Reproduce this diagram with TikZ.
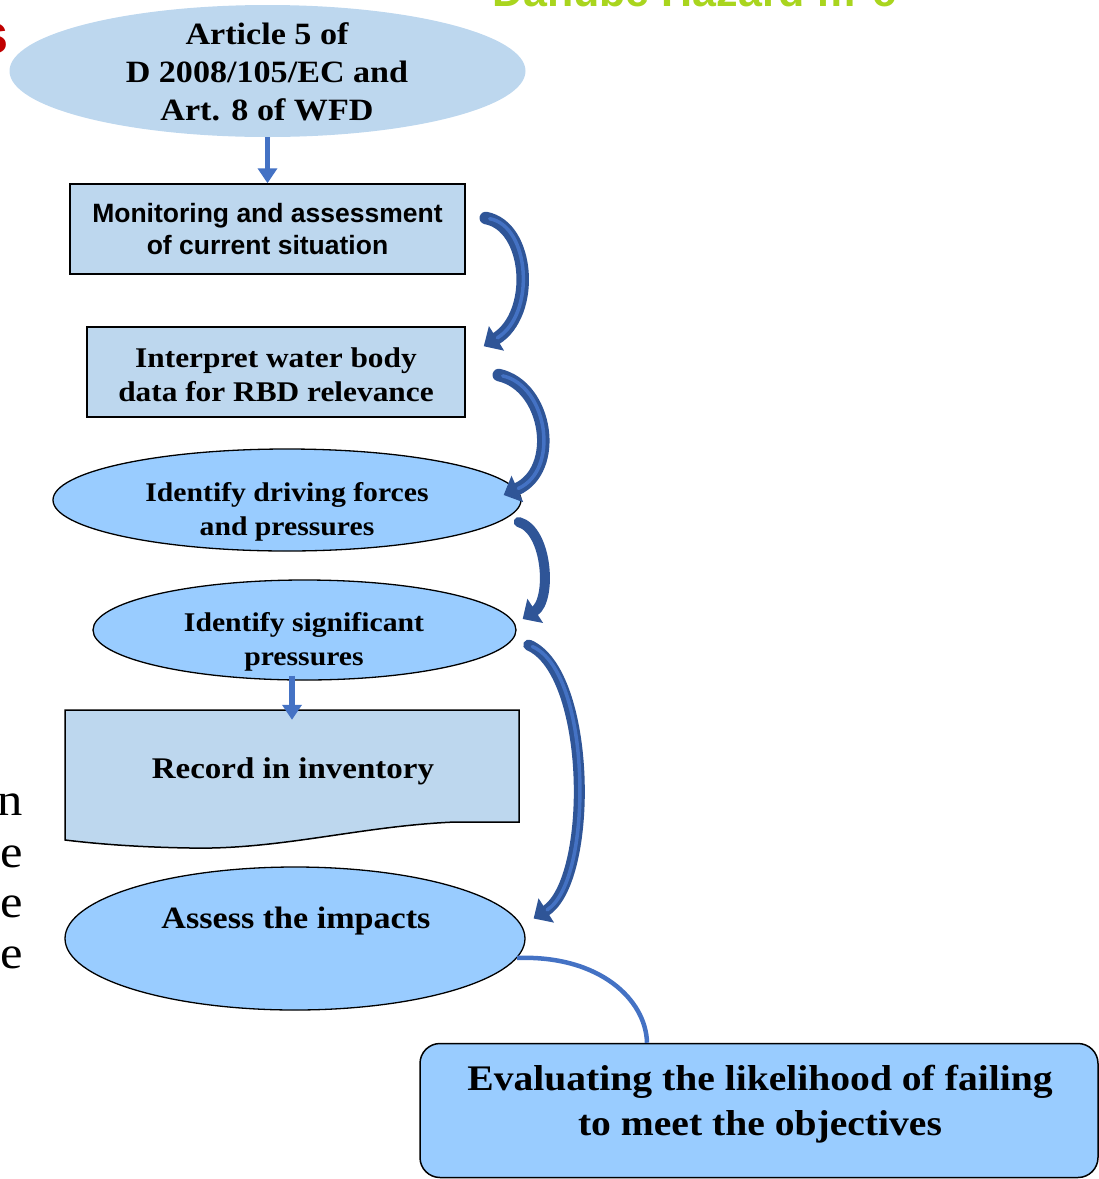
\documentclass[tikz,border=0pt]{standalone}
\usepackage{fontspec}
\setmainfont{Liberation Serif}
\newfontfamily\cam[FakeStretch=1.1]{Liberation Serif}
\newfontfamily\arl{Liberation Sans}
\usetikzlibrary{arrows.meta,shapes.geometric,calc}
\definecolor{paleblue}{HTML}{BDD7EE}
\definecolor{skyblue}{HTML}{99CCFF}
\definecolor{linkblue}{HTML}{4472C4}
\definecolor{darkarrow}{HTML}{2F5597}
\definecolor{titlered}{HTML}{C00000}
\definecolor{titlegreen}{HTML}{A9D51E}
\begin{document}
\begin{tikzpicture}[x=1pt,y=-1pt,
  ellshape/.style={ellipse,inner sep=0pt,draw=black,line width=1.3pt,fill=skyblue},
  boxnode/.style={rectangle,draw=black,line width=1.5pt,fill=paleblue,inner sep=0pt,align=center},
  camtext/.style={align=center,inner sep=0pt},
  downarrow/.style={draw=linkblue,line width=5.5pt,-{Triangle[length=15pt,width=19pt]}},
  bendarrow/.style={draw=darkarrow,line width=#1,line cap=round,-{Triangle[length=15pt,width=28pt]}},
  bendcore/.style={draw=linkblue,line width=3.5pt,line cap=round,shorten >=16pt,shorten <=4pt},
  leftfrag/.style={anchor=base east,inner sep=0pt,font={\cam\fontsize{46}{51}\selectfont}}
]
\useasboundingbox (0,0) rectangle (1099,1179);

% cut-off title fragments
\node[anchor=base east,inner sep=0pt,text=titlered,font={\arl\bfseries\fontsize{56}{60}\selectfont}] (reds) at (9,53) {s};
\node[anchor=base west,inner sep=0pt,text=titlegreen,font={\arl\bfseries\fontsize{43}{50}\selectfont}] (greent) at (492,6) {Danube Hazard m\textsuperscript{3}c};

% left side text fragments
\node[leftfrag] (f1) at (23,815) {n};
\node[leftfrag] (f2) at (23,867) {e};
\node[leftfrag] (f3) at (23,917) {e};
\node[leftfrag] (f4) at (23,968) {e};

% top ellipse
\node[ellipse,inner sep=0pt,fill=paleblue,minimum width=516pt,minimum height=132pt] (top) at (267.5,71) {};
\node[camtext,font={\cam\bfseries\fontsize{31}{38}\selectfont}] (toptext) at (267,72) {Article 5 of\\D 2008/105/EC and\\Art. 8 of WFD};

% box 1
\node[boxnode,minimum width=395pt,minimum height=90pt,font={\arl\bfseries\fontsize{26.5}{32}\selectfont}] (box1) at (267.5,229) {Monitoring and assessment\\of current situation};

% box 2
\node[boxnode,minimum width=378pt,minimum height=90pt] (box2) at (276,372) {};
\node[camtext,font={\cam\bfseries\fontsize{28.5}{34}\selectfont}] (box2text) at (276,375) {Interpret water body\\data for RBD relevance};

% ellipse 3
\node[ellshape,minimum width=468pt,minimum height=102pt] (ell3) at (287,500) {};
\node[camtext,font={\cam\bfseries\fontsize{27}{34}\selectfont}] (ell3text) at (287,512) {Identify driving forces\\and pressures};

% ellipse 4
\node[ellshape,minimum width=423pt,minimum height=100pt] (ell4) at (304.5,630) {};
\node[camtext,font={\cam\bfseries\fontsize{27}{34}\selectfont}] (ell4text) at (304,642) {Identify significant\\pressures};

% record (document shape)
\draw[fill=paleblue,line width=1.5pt] (65,710) -- (519,710) -- (519,822) -- (455,822)
  .. controls (360,826) and (280,850) .. (190,848)
  .. controls (130,847) and (90,843) .. (65,840) -- cycle;
\node[minimum width=454pt,minimum height=112pt,inner sep=0pt] (rec) at (292,766) {};
\node[camtext,font={\cam\bfseries\fontsize{30}{36}\selectfont}] (rectext) at (293,771) {Record in inventory};

% ellipse 5
\node[ellshape,minimum width=460pt,minimum height=143pt] (ell5) at (295,938.5) {};
\node[camtext,font={\cam\bfseries\fontsize{31}{36}\selectfont}] (ell5text) at (296,921) {Assess the impacts};

% final box
\node[rectangle,rounded corners=20pt,draw=black,line width=1.5pt,fill=skyblue,minimum width=678pt,minimum height=134pt,inner sep=0pt] (final) at (759,1110.5) {};
\node[camtext,font={\cam\bfseries\fontsize{36}{45}\selectfont}] (finaltext) at (760,1104) {Evaluating the likelihood of failing\\to meet the objectives};

% straight arrows
\draw[downarrow] (top.south) -- (box1.north);
\draw[downarrow] ([yshift=5pt]ell4.south -| rec.north) -- ([yshift=-10pt]rec.north);

% curved arrows
\coordinate (a1s) at ([xshift=20pt,yshift=11pt]box1.east);
\coordinate (a1e) at ([xshift=18pt,yshift=-20pt]box2.north east);
\draw[bendarrow=12.5pt] (a1s) .. controls (530,226) and (536,314) .. (a1e);
\draw[bendcore] (a1s) .. controls (530,226) and (536,314) .. (a1e);

\coordinate (a2s) at ([xshift=33pt,yshift=-3pt]box2.east);
\coordinate (a2e) at ([xshift=-18pt,yshift=5pt]ell3.east);
\draw[bendarrow=12.5pt] (a2s) .. controls (548,386) and (560,470) .. (a2e);
\draw[bendcore] (a2s) .. controls (548,386) and (560,470) .. (a2e);

\coordinate (a3s) at ([xshift=-3pt,yshift=-22pt]ell3.east);
\coordinate (a3e) at ([xshift=6pt,yshift=11pt]ell4.east);
\draw[bendarrow=10pt] (a3s) .. controls (548,530) and (552,600) .. (a3e);

\coordinate (a4s) at ([xshift=12pt,yshift=-15pt]ell4.east);
\coordinate (a4e) at ([xshift=8pt,yshift=20pt]ell5.east);
\draw[bendarrow=11pt] (a4s) .. controls (592,672) and (594,880) .. (a4e);
\draw[bendcore] (a4s) .. controls (592,672) and (594,880) .. (a4e);

% link to final box
\coordinate (linkend) at ([xshift=-112pt]final.north);
\draw[draw=linkblue,line width=4.5pt] (ell5.-5) .. controls (600,955) and (646,1000) .. (linkend);
\end{tikzpicture}
\end{document}
